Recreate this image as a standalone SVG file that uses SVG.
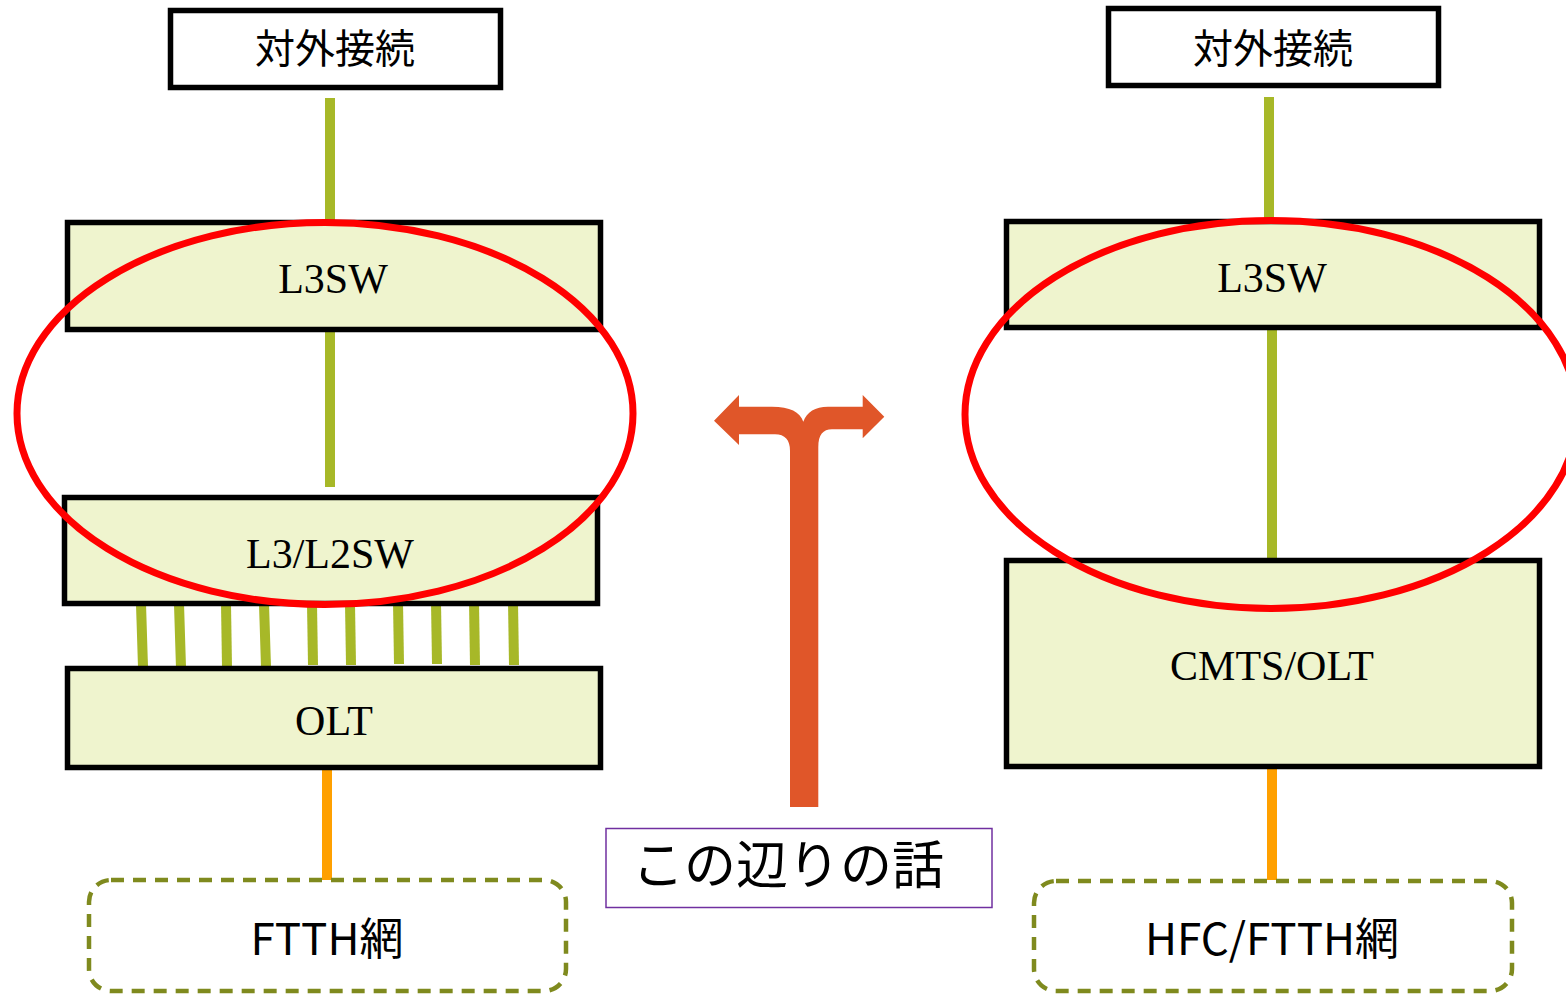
<svg xmlns="http://www.w3.org/2000/svg" width="1566" height="995" viewBox="0 0 1566 995">
<style>
.box{fill:#fff;stroke:#000;stroke-width:5.5}
.dev{fill:#EFF4CE;stroke:#000;stroke-width:5.5}
.net{fill:#fff;stroke:#7F8A1E;stroke-width:4.5;stroke-dasharray:13 9}
.g{stroke:#A7B828;stroke-width:10;fill:none}
.o{stroke:#FFA000;stroke-width:10;fill:none}
.ring{fill:none;stroke:#FF0000;stroke-width:7}
.jp{font-family:"Noto Sans CJK JP","Noto Sans",sans-serif;fill:#000;text-anchor:middle}
.tm{font-family:"Liberation Serif","Times New Roman",serif;font-size:42px;fill:#000;text-anchor:middle}
</style>
<rect width="1566" height="995" fill="#fff"/>
<g id="connectors">
  <line class="g" x1="330" y1="98" x2="330" y2="220"/>
  <line class="g" x1="330" y1="332" x2="330" y2="487"/>
  <line class="g" x1="141" y1="604" x2="143" y2="667"/>
  <line class="g" x1="179" y1="604" x2="181" y2="668"/>
  <line class="g" x1="226" y1="604" x2="227" y2="667"/>
  <line class="g" x1="264" y1="604" x2="266" y2="667"/>
  <line class="g" x1="312" y1="604" x2="313" y2="665"/>
  <line class="g" x1="350" y1="604" x2="351" y2="665"/>
  <line class="g" x1="398" y1="602" x2="399" y2="664"/>
  <line class="g" x1="436" y1="602" x2="437" y2="664"/>
  <line class="g" x1="474" y1="602" x2="475" y2="665"/>
  <line class="g" x1="513" y1="602" x2="514" y2="665"/>
  <line class="o" x1="327" y1="770" x2="327" y2="880"/>
  <line class="g" x1="1269" y1="97" x2="1269" y2="219"/>
  <line class="g" x1="1272" y1="330" x2="1272" y2="558"/>
  <line class="o" x1="1272" y1="769" x2="1272" y2="880"/>
</g>
<g id="ext-left">
  <rect class="box" x="170.5" y="10.5" width="330" height="77"/>
  <text class="jp" x="335" y="63" font-size="40">対外接続</text>
</g>
<g id="l3sw-left">
  <rect class="dev" x="67.5" y="222.5" width="533" height="107"/>
  <text class="tm" x="333" y="293">L3SW</text>
</g>
<g id="l3l2sw-left">
  <rect class="dev" x="64.5" y="497.5" width="533" height="106"/>
  <text class="tm" x="330" y="568">L3/L2SW</text>
</g>
<g id="olt-left">
  <rect class="dev" x="67.5" y="668.5" width="533" height="99"/>
  <text class="tm" x="334" y="735">OLT</text>
</g>
<g id="ftth-left">
  <rect class="net" x="89" y="880" width="477" height="111" rx="22"/>
  <text class="jp" x="327" y="955" font-size="44">FTTH網</text>
</g>
<g id="ext-right">
  <rect class="box" x="1108.5" y="8.5" width="330" height="77"/>
  <text class="jp" x="1273" y="63" font-size="40">対外接続</text>
</g>
<g id="l3sw-right">
  <rect class="dev" x="1006.5" y="221.5" width="533" height="106"/>
  <text class="tm" x="1272" y="292">L3SW</text>
</g>
<g id="cmts-right">
  <rect class="dev" x="1006.5" y="560.5" width="533" height="206"/>
  <text class="tm" x="1272" y="680">CMTS/OLT</text>
</g>
<g id="hfc-right">
  <rect class="net" x="1034" y="881" width="478" height="110" rx="22"/>
  <text class="jp" x="1272" y="955" font-size="44">HFC/FTTH網</text>
</g>
<g id="highlights">
  <ellipse class="ring" cx="325" cy="413.5" rx="308" ry="191"/>
  <ellipse class="ring" cx="1271" cy="414.5" rx="306" ry="194"/>
</g>
<g id="split-arrow">
  <path fill="#E05629" d="M714,420.7 L739,395 L739,406.7 L772,406.7 C790,406.7 800,412 803.3,421.7 C807,412 815,406.7 828,406.7 L862.7,406.7 L862.7,395 L884.3,416.7 L862.7,438.3 L862.7,429.3 L832,429.3 C823,429.3 818.3,435 818.3,447 L818.3,807 L790,807 L790,451 C790,440 785,434.3 775,434.3 L739,434.3 L739,445 Z"/>
</g>
<g id="topic">
  <rect x="606" y="828.5" width="386" height="79" fill="#fff" stroke="#7030A0" stroke-width="1.5"/>
  <text class="jp" x="788" y="884" font-size="52">この辺りの話</text>
</g>
</svg>
